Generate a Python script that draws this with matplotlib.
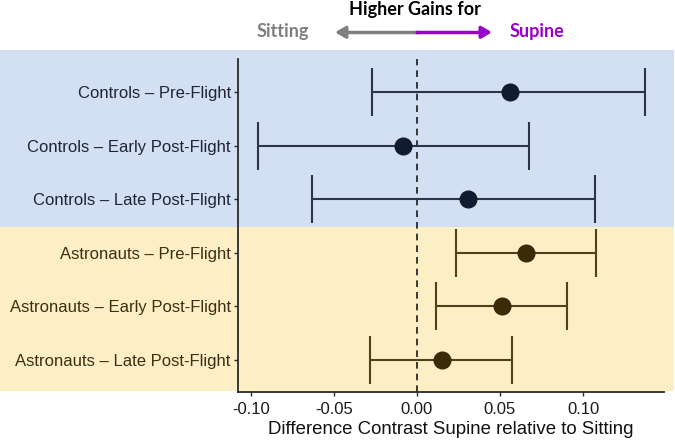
import numpy as np
import matplotlib.pyplot as plt
from matplotlib.patches import Rectangle

# Dados
labels = [
    "Controls \u2013 Pre-Flight",
    "Controls \u2013 Early Post-Flight",
    "Controls \u2013 Late Post-Flight",
    "Astronauts \u2013 Pre-Flight",
    "Astronauts \u2013 Early Post-Flight",
    "Astronauts \u2013 Late Post-Flight",
]
estimate = [0.0561, -0.0081, 0.0307, 0.0658, 0.0512, 0.0149]
ci_low = [-0.0268, -0.0955, -0.0633, 0.0233, 0.0113, -0.0280]
ci_high = [0.1373, 0.0673, 0.1072, 0.1076, 0.0901, 0.0572]
group = ["Controls"] * 3 + ["Astronauts"] * 3
xticks = [-0.10, -0.05, 0.00, 0.05, 0.10]

cores_ponto = {"Controls": "#111a2e", "Astronauts": "#3a2a05"}
cores_linha = {"Controls": "#2c3547", "Astronauts": "#4f4020"}
cores_texto = {"Controls": "#1f2535", "Astronauts": "#3b2f12"}

plt.rcParams["font.family"] = ["Liberation Sans", "DejaVu Sans"]

fig = plt.figure(figsize=(6.75, 4.43), dpi=100)
W, H = 675, 443

# Faixas de fundo (coordenadas da figura)
fig.patches.append(Rectangle((0, 1 - 227.3 / H), 674 / W, (227.3 - 50) / H,
                             transform=fig.transFigure, facecolor="#d3dff3",
                             edgecolor="none", zorder=-10))
fig.patches.append(Rectangle((0, 1 - 391 / H), 674 / W, (391 - 227.3) / H,
                             transform=fig.transFigure, facecolor="#fdefc5",
                             edgecolor="none", zorder=-10))

ax = fig.add_axes([237.7 / W, 1 - 392.3 / H, (664 - 237.7) / W, (392.3 - 59) / H])
ax.set_facecolor("none")
ax.set_zorder(2)

y = np.arange(1, len(labels) + 1)
ax.axvline(0, color="#1a1a1a", linestyle=(0, (4, 3)), linewidth=1.2, zorder=1)

for i in range(len(labels)):
    g = group[i]
    err = [[estimate[i] - ci_low[i]], [ci_high[i] - estimate[i]]]
    ax.errorbar(estimate[i], y[i], xerr=err, fmt="o", color=cores_ponto[g],
                ecolor=cores_linha[g], elinewidth=1.5, capsize=17, capthick=1.5,
                markersize=12, zorder=3)

ax.set_ylim(6.61, 0.38)
ax.set_xlim(-0.1078, 0.1487)
ax.set_yticks(y)
ax.set_yticklabels(labels, fontsize=12)
for lab, g in zip(ax.get_yticklabels(), group):
    lab.set_color(cores_texto[g])
ax.set_xticks(xticks)
ax.set_xticklabels([f"{v:.2f}" for v in xticks], fontsize=12, color="#1a1a1a")
ax.set_xlabel("Difference Contrast Supine relative to Sitting", fontsize=13.4,
              color="#111111", labelpad=3)

for s in ["top", "right"]:
    ax.spines[s].set_visible(False)
ax.spines["left"].set_color("#2a2a2a")
ax.spines["bottom"].set_color("#2a2a2a")
ax.spines["left"].set_linewidth(1.3)
ax.spines["bottom"].set_linewidth(1.3)
ax.tick_params(axis="both", length=3, width=1, color="#2a2a2a")
ax.tick_params(axis="x", pad=4)
ax.tick_params(axis="y", pad=2)

# Cabeçalho com a seta
fig.text(415 / W, 1 - 9 / H, "Higher Gains for", ha="center", va="center",
         fontsize=13, fontweight="bold", color="black", family=["Lato", "DejaVu Sans"])
fig.text(283 / W, 1 - 32 / H, "Sitting", ha="center", va="center",
         fontsize=13, fontweight="bold", color="#7f7f7f", family=["Lato", "DejaVu Sans"])
fig.text(537 / W, 1 - 32 / H, "Supine", ha="center", va="center",
         fontsize=13, fontweight="bold", color="#9900cc", family=["Lato", "DejaVu Sans"])
ay = 1 - 32.3 / H
fig.add_artist(plt.Line2D([345 / W, 416.7 / W], [ay, ay], transform=fig.transFigure,
                          color="#808080", linewidth=2.5))
fig.add_artist(plt.Line2D([416.7 / W, 482 / W], [ay, ay], transform=fig.transFigure,
                          color="#9900cc", linewidth=2.5))
ax.annotate("", xy=(335 / W, ay), xytext=(348 / W, ay), xycoords="figure fraction",
            arrowprops=dict(arrowstyle="-|>,head_length=0.6,head_width=0.35",
                            color="#808080", lw=2.5, shrinkA=0, shrinkB=0))
ax.annotate("", xy=(492 / W, ay), xytext=(479 / W, ay), xycoords="figure fraction",
            arrowprops=dict(arrowstyle="-|>,head_length=0.6,head_width=0.35",
                            color="#9900cc", lw=2.5, shrinkA=0, shrinkB=0))

plt.savefig("out.png", dpi=100)
plt.close(fig)
